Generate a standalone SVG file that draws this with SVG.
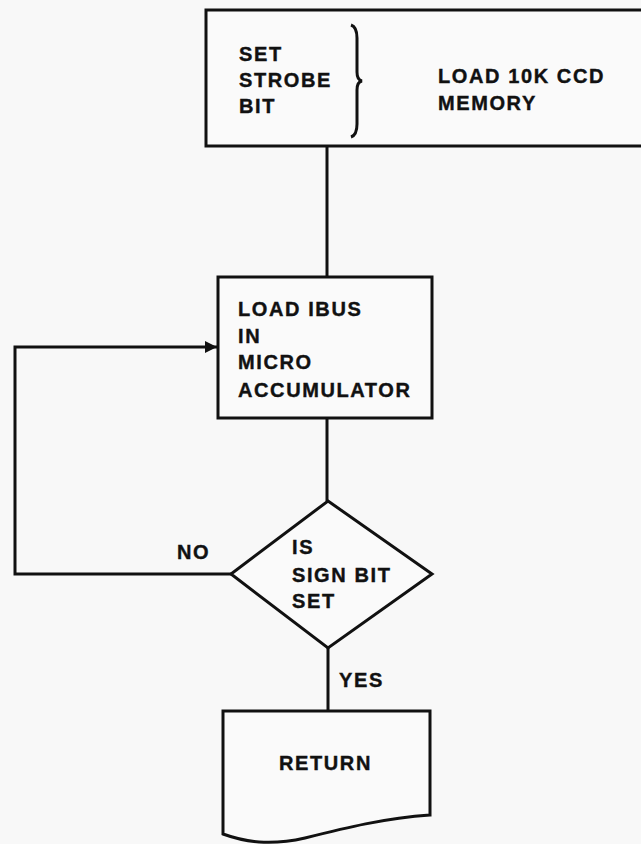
<svg xmlns="http://www.w3.org/2000/svg" width="641" height="844" viewBox="0 0 641 844">
<style>
.s{fill:none;stroke:#111;stroke-width:3;stroke-linejoin:miter}
.b{fill:#fafafa;stroke:#111;stroke-width:3}
.t{font-family:"Liberation Sans",Arial,sans-serif;font-weight:bold;font-size:20px;fill:#111;letter-spacing:1.6px;stroke:#111;stroke-width:0.4}
</style>
<defs>
<marker id="ah" viewBox="0 0 10 10" refX="10" refY="5" markerWidth="6" markerHeight="4" markerUnits="strokeWidth" orient="auto">
<path d="M0,0 L10,5 L0,10 z" fill="#111"/>
</marker>
</defs>
<rect width="641" height="844" fill="#f8f8f8"/>
<g id="connectors">
<line class="s" x1="327" y1="146" x2="327" y2="277"/>
<line class="s" x1="327" y1="418" x2="327" y2="501"/>
<polyline class="s" points="231,574 15,574 15,347 217,347" marker-end="url(#ah)"/>
<line class="s" x1="328" y1="648" x2="328" y2="711"/>
</g>
<g id="node-load-ccd">
<rect class="b" x="206" y="10" width="445" height="136"/>
<path class="s" d="M351,25 Q357,27 357,38 L357,72 Q357,80 362,81 Q357,82 357,90 L357,124 Q357,135 351,137" stroke-width="2.5"/>
<text class="t" x="239" y="61">SET</text>
<text class="t" x="239" y="87">STROBE</text>
<text class="t" x="239" y="113">BIT</text>
<text class="t" x="438" y="83">LOAD 10K CCD</text>
<text class="t" x="438" y="110">MEMORY</text>
</g>
<g id="node-load-ibus">
<rect class="b" x="218" y="277" width="214" height="141"/>
<text class="t" x="238" y="316">LOAD IBUS</text>
<text class="t" x="238" y="343">IN</text>
<text class="t" x="238" y="369">MICRO</text>
<text class="t" x="238" y="397">ACCUMULATOR</text>
</g>
<g id="node-decision">
<polygon class="b" points="328,501 432,574 328,648 231,574"/>
<text class="t" x="292" y="554">IS</text>
<text class="t" x="292" y="582">SIGN BIT</text>
<text class="t" x="292" y="608">SET</text>
</g>
<g id="labels">
<text class="t" x="177" y="559">NO</text>
<text class="t" x="339" y="687">YES</text>
</g>
<g id="node-return">
<path class="b" d="M223,711 L430,711 L430,815 C385,818 345,828 305,838 C270,846 245,842 223,834 Z"/>
<text class="t" x="279" y="770">RETURN</text>
</g>
</svg>
